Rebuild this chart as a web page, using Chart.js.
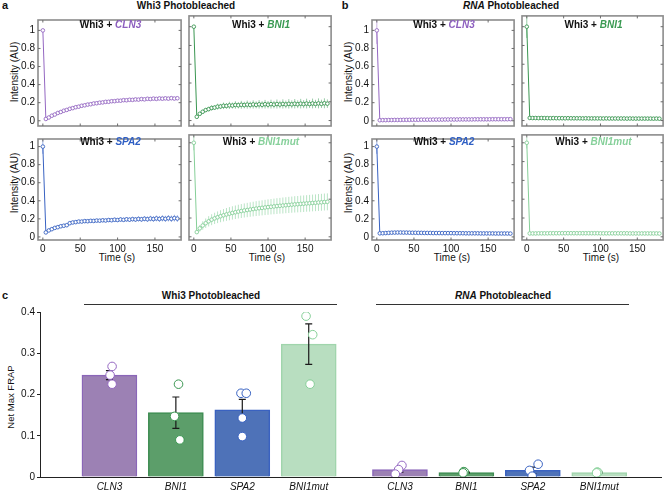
<!DOCTYPE html>
<html lang="en">
<head>
<meta charset="UTF-8">
<title>FRAP</title>
<style>
  body { margin: 0; background: #fff; }
  #fig { position: relative; width: 667px; height: 495px; overflow: hidden; font-family: "Liberation Sans", Arial, sans-serif; color: #111; }
  #fig canvas { position: absolute; }
  .t { position: absolute; white-space: nowrap; transform: translate(-50%, -50%); line-height: 1; }
  .b { font-weight: bold; }
  .rot { transform: translate(-50%, -50%) rotate(-90deg); }
  .rule { position: absolute; height: 0; border-top: 1px solid #333; }
</style>
</head>
<body>
<div id="fig">
  <div class="t b" style="left:5px;top:5px;font-size:11px">a</div>
  <div class="t b" style="left:186px;top:6px;font-size:10px">Whi3 Photobleached</div>
  <div class="t b" style="left:345px;top:5px;font-size:11px">b</div>
  <div class="t b" style="left:511px;top:6px;font-size:10px"><i>RNA</i> Photobleached</div>
  <div class="t b" style="left:5px;top:295px;font-size:11px">c</div>

  <div class="t rot" style="left:15px;top:72px;font-size:10px">Intensity (AU)</div>
  <div class="t rot" style="left:15px;top:183px;font-size:10px">Intensity (AU)</div>
  <div class="t rot" style="left:349px;top:72px;font-size:10px">Intensity (AU)</div>
  <div class="t rot" style="left:349px;top:183px;font-size:10px">Intensity (AU)</div>
  <div class="t" style="left:117px;top:258px;font-size:10px">Time (s)</div>
  <div class="t" style="left:267px;top:258px;font-size:10px">Time (s)</div>
  <div class="t" style="left:452px;top:258px;font-size:10px">Time (s)</div>
  <div class="t" style="left:601px;top:258px;font-size:10px">Time (s)</div>

  <div class="t b" style="left:211px;top:296px;font-size:10px">Whi3 Photobleached</div>
  <div class="rule" style="left:84px;top:304px;width:253px"></div>
  <div class="t b" style="left:503px;top:296px;font-size:10px"><i>RNA</i> Photobleached</div>
  <div class="rule" style="left:376px;top:304px;width:253px"></div>
  <div class="t rot" style="left:11px;top:397px;font-size:9.5px">Net Max FRAP</div>
</div>

<script src="https://cdn.jsdelivr.net/npm/chart.js"></script>
<script>
// ---- data ----
const times = [0, 4, 8, 12, 16, 20, 24, 28, 32, 36, 40, 44, 48, 52, 56, 60, 64, 68, 72, 76, 80, 84, 88, 92,
  96, 100, 104, 108, 112, 116, 120, 124, 128, 132, 136, 140, 144, 148, 152, 156, 160, 164, 168, 172, 176, 180];

const aCLN3 = [1.0, 0.020, 0.036, 0.056, 0.069, 0.086, 0.097, 0.111, 0.120, 0.132, 0.140, 0.150, 0.156, 0.166, 0.171, 0.179,
  0.183, 0.191, 0.194, 0.200, 0.203, 0.209, 0.210, 0.216, 0.217, 0.222, 0.222, 0.228, 0.227, 0.232, 0.231, 0.236,
  0.234, 0.240, 0.237, 0.243, 0.240, 0.245, 0.242, 0.247, 0.244, 0.248, 0.245, 0.250, 0.246, 0.249];
const aCLN3err = [0, 0.004, 0.005, 0.006, 0.006, 0.007, 0.007, 0.008, 0.008, 0.008, 0.009, 0.009, 0.009, 0.010, 0.010, 0.010,
  0.010, 0.011, 0.011, 0.011, 0.011, 0.012, 0.011, 0.012, 0.011, 0.012, 0.012, 0.013, 0.012, 0.013, 0.012, 0.013,
  0.012, 0.014, 0.012, 0.014, 0.013, 0.014, 0.013, 0.014, 0.013, 0.014, 0.013, 0.014, 0.013, 0.014];

const aBNI1 = [1.0, 0.040, 0.072, 0.094, 0.112, 0.122, 0.134, 0.138, 0.148, 0.150, 0.157, 0.156, 0.162, 0.160, 0.166, 0.163,
  0.168, 0.165, 0.170, 0.166, 0.172, 0.167, 0.173, 0.168, 0.174, 0.169, 0.175, 0.170, 0.176, 0.171, 0.177, 0.172,
  0.178, 0.173, 0.179, 0.174, 0.180, 0.175, 0.181, 0.176, 0.182, 0.177, 0.183, 0.178, 0.184, 0.180];
const aBNI1err = [0, 0.008, 0.014, 0.018, 0.022, 0.024, 0.028, 0.026, 0.032, 0.028, 0.035, 0.030, 0.038, 0.032, 0.040, 0.034,
  0.042, 0.035, 0.043, 0.036, 0.044, 0.037, 0.045, 0.038, 0.046, 0.039, 0.047, 0.040, 0.048, 0.040, 0.049, 0.041,
  0.050, 0.042, 0.050, 0.042, 0.051, 0.043, 0.052, 0.043, 0.052, 0.044, 0.053, 0.044, 0.053, 0.045];

const aSPA2 = [1.0, 0.050, 0.072, 0.086, 0.100, 0.108, 0.118, 0.124, 0.130, 0.152, 0.160, 0.164, 0.170, 0.170, 0.175, 0.174,
  0.178, 0.177, 0.181, 0.180, 0.184, 0.182, 0.187, 0.185, 0.190, 0.187, 0.193, 0.189, 0.195, 0.191, 0.197, 0.193,
  0.199, 0.195, 0.201, 0.196, 0.203, 0.198, 0.205, 0.199, 0.206, 0.200, 0.207, 0.201, 0.208, 0.203];
const aSPA2err = [0.08, 0.004, 0.005, 0.006, 0.006, 0.007, 0.007, 0.008, 0.008, 0.010, 0.011, 0.012, 0.013, 0.013, 0.014, 0.015,
  0.016, 0.016, 0.017, 0.018, 0.019, 0.019, 0.020, 0.021, 0.022, 0.022, 0.023, 0.024, 0.025, 0.025, 0.026, 0.027,
  0.028, 0.028, 0.029, 0.030, 0.031, 0.031, 0.032, 0.033, 0.034, 0.034, 0.035, 0.036, 0.037, 0.037];

const aBNI1mut = [1.0, 0.050, 0.090, 0.120, 0.145, 0.165, 0.182, 0.196, 0.208, 0.219, 0.229, 0.238, 0.246, 0.254, 0.261, 0.268,
  0.274, 0.280, 0.285, 0.290, 0.295, 0.300, 0.304, 0.308, 0.312, 0.316, 0.320, 0.323, 0.327, 0.330, 0.333, 0.336,
  0.339, 0.342, 0.345, 0.347, 0.350, 0.352, 0.355, 0.357, 0.360, 0.362, 0.365, 0.367, 0.370, 0.372];
const aBNI1muterr = [0.08, 0.020, 0.035, 0.045, 0.050, 0.055, 0.058, 0.060, 0.062, 0.064, 0.066, 0.068, 0.070, 0.071, 0.072, 0.073,
  0.074, 0.075, 0.076, 0.077, 0.078, 0.079, 0.080, 0.080, 0.081, 0.082, 0.082, 0.083, 0.084, 0.084, 0.085, 0.085,
  0.086, 0.086, 0.087, 0.087, 0.088, 0.088, 0.088, 0.089, 0.089, 0.089, 0.090, 0.090, 0.090, 0.090];

const bCLN3 = [1.0, 0.006, 0.007, 0.007, 0.008, 0.008, 0.009, 0.009, 0.009, 0.010, 0.010, 0.010, 0.011, 0.011, 0.011, 0.012,
  0.012, 0.012, 0.012, 0.013, 0.013, 0.013, 0.013, 0.014, 0.014, 0.014, 0.014, 0.014, 0.015, 0.015, 0.015, 0.015,
  0.015, 0.016, 0.016, 0.016, 0.016, 0.016, 0.016, 0.017, 0.017, 0.017, 0.017, 0.017, 0.017, 0.018];
const bCLN3err = [0.15, 0.003, 0.003, 0.003, 0.003, 0.003, 0.003, 0.003, 0.003, 0.003, 0.003, 0.003, 0.003, 0.003, 0.003, 0.003,
  0.003, 0.003, 0.003, 0.003, 0.003, 0.003, 0.003, 0.003, 0.003, 0.003, 0.003, 0.003, 0.003, 0.003, 0.003, 0.003,
  0.003, 0.003, 0.003, 0.003, 0.003, 0.003, 0.003, 0.003, 0.003, 0.003, 0.003, 0.003, 0.003, 0.003];

const bBNI1 = [1.0, 0.028, 0.027, 0.027, 0.026, 0.027, 0.026, 0.026, 0.025, 0.026, 0.025, 0.025, 0.025, 0.024, 0.025, 0.024,
  0.024, 0.024, 0.024, 0.023, 0.024, 0.023, 0.023, 0.023, 0.023, 0.023, 0.022, 0.023, 0.022, 0.022, 0.022, 0.022,
  0.022, 0.022, 0.021, 0.022, 0.021, 0.021, 0.021, 0.021, 0.021, 0.021, 0.021, 0.020, 0.021, 0.020];
const bBNI1err = [0.12, 0.004, 0.004, 0.004, 0.004, 0.004, 0.004, 0.004, 0.004, 0.004, 0.004, 0.004, 0.004, 0.004, 0.004, 0.004,
  0.004, 0.004, 0.004, 0.004, 0.004, 0.004, 0.004, 0.004, 0.004, 0.004, 0.004, 0.004, 0.004, 0.004, 0.004, 0.004,
  0.004, 0.004, 0.004, 0.004, 0.004, 0.004, 0.004, 0.004, 0.004, 0.004, 0.004, 0.004, 0.004, 0.004];

const bSPA2 = [1.0, 0.040, 0.041, 0.043, 0.045, 0.047, 0.048, 0.049, 0.049, 0.048, 0.048, 0.047, 0.046, 0.046, 0.045, 0.045,
  0.044, 0.044, 0.044, 0.043, 0.043, 0.043, 0.042, 0.042, 0.042, 0.042, 0.041, 0.041, 0.041, 0.041, 0.040, 0.040,
  0.040, 0.040, 0.040, 0.039, 0.039, 0.039, 0.039, 0.039, 0.038, 0.038, 0.038, 0.038, 0.038, 0.037];
const bSPA2err = [0.08, 0.006, 0.007, 0.008, 0.008, 0.009, 0.009, 0.009, 0.009, 0.008, 0.008, 0.008, 0.008, 0.008, 0.008, 0.008,
  0.008, 0.008, 0.008, 0.008, 0.008, 0.008, 0.008, 0.008, 0.008, 0.008, 0.008, 0.008, 0.008, 0.008, 0.008, 0.008,
  0.008, 0.008, 0.008, 0.008, 0.008, 0.008, 0.008, 0.008, 0.008, 0.008, 0.008, 0.008, 0.008, 0.008];

const bBNI1mut = [1.0, 0.036, 0.036, 0.036, 0.037, 0.037, 0.037, 0.037, 0.038, 0.038, 0.038, 0.038, 0.038, 0.038, 0.038, 0.038,
  0.038, 0.038, 0.038, 0.038, 0.038, 0.038, 0.038, 0.038, 0.038, 0.037, 0.037, 0.037, 0.037, 0.037, 0.037, 0.037,
  0.037, 0.037, 0.037, 0.036, 0.036, 0.036, 0.036, 0.036, 0.036, 0.036, 0.036, 0.036, 0.036, 0.035];
const bBNI1muterr = [0.06, 0.003, 0.003, 0.003, 0.003, 0.003, 0.003, 0.003, 0.003, 0.003, 0.003, 0.003, 0.003, 0.003, 0.003, 0.003,
  0.003, 0.003, 0.003, 0.003, 0.003, 0.003, 0.003, 0.003, 0.003, 0.003, 0.003, 0.003, 0.003, 0.003, 0.003, 0.003,
  0.003, 0.003, 0.003, 0.003, 0.003, 0.003, 0.003, 0.003, 0.003, 0.003, 0.003, 0.003, 0.003, 0.003];

const lineYTicks = [0, 0.2, 0.4, 0.6, 0.8, 1];
const lineXTicks = [0, 50, 100, 150];

// panel c
const barLabels = ['CLN3', 'BNI1', 'SPA2', 'BNI1mut', 'CLN3', 'BNI1', 'SPA2', 'BNI1mut'];
const barMeans = [0.247, 0.156, 0.163, 0.322, 0.018, 0.011, 0.016, 0.011];
const barErrs = [0.011, 0.038, 0.025, 0.049, 0.006, 0.001, 0.008, 0.001];
// individual replicates: [bar index, value, jitter]
const barDots = [
  [0, 0.268, 0.04], [0, 0.247, 0.01], [0, 0.225, 0.04],
  [1, 0.225, 0.04], [1, 0.147, -0.02], [1, 0.090, 0.06],
  [2, 0.203, -0.02], [2, 0.203, 0.06], [2, 0.143, 0.0], [2, 0.098, 0.0],
  [3, 0.390, -0.04], [3, 0.345, 0.06], [3, 0.225, 0.02],
  [4, 0.028, 0.03], [4, 0.018, -0.02], [4, 0.007, -0.07],
  [5, 0.013, -0.04], [5, 0.012, -0.03], [5, 0.010, -0.05],
  [6, 0.031, 0.08], [6, 0.016, -0.05], [6, 0.002, -0.01],
  [7, 0.012, -0.03], [7, 0.011, -0.02], [7, 0.010, -0.04]
];
const barYTicks = [0, 0.1, 0.2, 0.3, 0.4];

// ---- styles ----
const col = {
  CLN3:    { line: '#9467c2', err: 'rgba(160,120,200,0.55)', fill: '#9c81b4', edge: '#8a66b8', text: '#8d5fbf' },
  BNI1:    { line: '#3a9651', err: 'rgba(70,160,95,0.55)',   fill: '#5c9e6a', edge: '#3d8c52', text: '#3a9a52' },
  SPA2:    { line: '#3862c2', err: 'rgba(70,110,200,0.55)',  fill: '#4e72b8', edge: '#3a62c0', text: '#2f5fc4' },
  BNI1mut: { line: '#86cf98', err: 'rgba(140,210,160,0.6)',  fill: '#b8dec0', edge: '#a0d5ac', text: '#86d09a' }
};

Chart.defaults.font.family = '"Liberation Sans", Arial, sans-serif';
Chart.defaults.color = '#111';
Chart.defaults.animation = false;

const fig = document.getElementById('fig');

const framePlugin = {
  id: 'frame',
  afterDraw(chart) {
    const { ctx, chartArea: a, scales: { x, y } } = chart;
    ctx.save();
    ctx.strokeStyle = '#8c8c8c';
    ctx.lineWidth = 1.6;
    ctx.strokeRect(a.left, a.top, a.right - a.left, a.bottom - a.top);
    ctx.lineWidth = 1;
    ctx.strokeStyle = '#6c6c6c';
    ctx.beginPath();
    lineXTicks.forEach(v => {
      const px = x.getPixelForValue(v);
      ctx.moveTo(px, a.bottom); ctx.lineTo(px, a.bottom - 2.5);
      ctx.moveTo(px, a.top); ctx.lineTo(px, a.top + 2.5);
    });
    lineYTicks.forEach(v => {
      const py = y.getPixelForValue(v);
      ctx.moveTo(a.left, py); ctx.lineTo(a.left + 2.5, py);
      ctx.moveTo(a.right, py); ctx.lineTo(a.right - 2.5, py);
    });
    ctx.stroke();
    ctx.restore();
  }
};

const errPlugin = {
  id: 'errbars',
  beforeDatasetsDraw(chart, args, opts) {
    const { ctx, chartArea: a, scales: { x, y } } = chart;
    const mean = opts.mean, err = opts.err;
    ctx.save();
    ctx.beginPath();
    ctx.rect(a.left, a.top, a.right - a.left, a.bottom - a.top);
    ctx.clip();
    ctx.strokeStyle = opts.color;
    ctx.lineWidth = 1;
    ctx.beginPath();
    times.forEach((t, i) => {
      const e = err[i] || 0;
      if (!e) return;
      const px = x.getPixelForValue(t);
      ctx.moveTo(px, y.getPixelForValue(mean[i] - e));
      ctx.lineTo(px, y.getPixelForValue(mean[i] + e));
    });
    ctx.stroke();
    ctx.restore();
  }
};

function panel(box, mean, err, c, yRange, showY, showX, title, titleY) {
  const padL = 26, padT = 3, padR = 3, padB = 18;
  const [L, T, R, B] = box;
  const cv = document.createElement('canvas');
  const w = R - L + padL + padR, h = B - T + padT + padB;
  cv.width = w; cv.height = h;
  cv.style.left = (L - padL) + 'px';
  cv.style.top = (T - padT) + 'px';
  cv.style.width = w + 'px'; cv.style.height = h + 'px';
  fig.appendChild(cv);

  const tl = document.createElement('div');
  tl.className = 't b';
  tl.style.cssText = `left:${(L + R) / 2}px;top:${titleY}px;font-size:10px`;
  tl.innerHTML = `Whi3 + <i style="color:${c.text}">${title}</i>`;
  fig.appendChild(tl);

  new Chart(cv, {
    type: 'line',
    data: {
      datasets: [{
        data: times.map((t, i) => ({ x: t, y: mean[i] })),
        borderColor: c.line,
        borderWidth: 1,
        pointRadius: 1.8,
        pointBorderWidth: 0.9,
        pointBorderColor: c.line,
        pointBackgroundColor: '#fff',
        tension: 0
      }]
    },
    options: {
      responsive: false,
      layout: { padding: { top: padT, right: padR, left: 0, bottom: 0 } },
      plugins: {
        legend: { display: false },
        tooltip: { enabled: false },
        errbars: { mean: mean, err: err, color: c.err }
      },
      scales: {
        x: {
          type: 'linear', min: -6.5, max: 185,
          afterBuildTicks: s => { s.ticks = lineXTicks.map(v => ({ value: v })); },
          afterFit: s => { s.height = padB; },
          grid: { display: false, drawTicks: false },
          border: { display: false },
          ticks: { display: showX, padding: 3, maxRotation: 0, autoSkip: false, font: { size: 10 }, color: '#111', callback: v => String(v) }
        },
        y: {
          min: yRange[0], max: yRange[1],
          afterBuildTicks: s => { s.ticks = lineYTicks.map(v => ({ value: v })); },
          afterFit: s => { s.width = padL; },
          grid: { display: false, drawTicks: false },
          border: { display: false },
          ticks: { display: showY, padding: 3, font: { size: 10 }, color: '#111', callback: v => String(v) }
        }
      }
    },
    plugins: [errPlugin, framePlugin]
  });
}

const topRange = [-0.058, 1.115], botRange = [-0.034, 1.084];
panel([38, 14, 183, 126], aCLN3, aCLN3err, col.CLN3, topRange, true, false, 'CLN3', 25);
panel([189, 14, 333, 126], aBNI1, aBNI1err, col.BNI1, topRange, false, false, 'BNI1', 25);
panel([38, 133, 183, 240], aSPA2, aSPA2err, col.SPA2, botRange, true, true, 'SPA2', 142);
panel([189, 133, 333, 240], aBNI1mut, aBNI1muterr, col.BNI1mut, botRange, false, true, 'BNI1mut', 142);
panel([372, 14, 516, 126], bCLN3, bCLN3err, col.CLN3, topRange, true, false, 'CLN3', 25);
panel([522, 14, 665, 126], bBNI1, bBNI1err, col.BNI1, topRange, false, false, 'BNI1', 25);
panel([372, 133, 516, 240], bSPA2, bSPA2err, col.SPA2, botRange, true, true, 'SPA2', 142);
panel([522, 133, 665, 240], bBNI1mut, bBNI1muterr, col.BNI1mut, botRange, false, true, 'BNI1mut', 142);

// ---- panel c: bar chart ----
const groupGap = 0.373;
const barPos = barLabels.map((_, i) => i + 1 + (i >= 4 ? groupGap : 0));
const barCols = barLabels.map(l => col[l]);

const barErrPlugin = {
  id: 'barerr',
  afterDatasetDraw(chart, args) {
    if (args.meta.type !== 'bar') return;
    const { ctx, scales: { x, y } } = chart;
    ctx.save();
    ctx.strokeStyle = '#1a1a1a';
    ctx.lineWidth = 1.2;
    ctx.beginPath();
    barPos.forEach((p, i) => {
      const px = x.getPixelForValue(p);
      const y1 = y.getPixelForValue(barMeans[i] - barErrs[i]);
      const y2 = y.getPixelForValue(barMeans[i] + barErrs[i]);
      ctx.moveTo(px, y1); ctx.lineTo(px, y2);
      ctx.moveTo(px - 3.5, y1); ctx.lineTo(px + 3.5, y1);
      ctx.moveTo(px - 3.5, y2); ctx.lineTo(px + 3.5, y2);
    });
    ctx.stroke();
    ctx.restore();
  }
};

const bc = document.createElement('canvas');
bc.width = 667; bc.height = 195;
bc.style.left = '0px'; bc.style.top = '300px';
bc.style.width = '667px'; bc.style.height = '195px';
fig.appendChild(bc);

new Chart(bc, {
  type: 'bar',
  data: {
    datasets: [
      {
        type: 'bar',
        order: 1,
        data: barPos.map((p, i) => ({ x: p, y: barMeans[i] })),
        backgroundColor: barCols.map(c => c.fill),
        borderColor: barCols.map(c => c.edge),
        borderWidth: 1.5,
        borderSkipped: 'bottom',
        barThickness: 55
      },
      {
        type: 'scatter',
        order: 0,
        data: barDots.map(d => ({ x: barPos[d[0]] + d[2], y: d[1] })),
        pointRadius: 4.3,
        pointBorderWidth: 1,
        pointBackgroundColor: '#fff',
        pointBorderColor: barDots.map(d => barCols[d[0]].line)
      }
    ]
  },
  options: {
    responsive: false,
    layout: { padding: { top: 12, right: 0, left: 0, bottom: 0 } },
    plugins: { legend: { display: false }, tooltip: { enabled: false } },
    scales: {
      x: {
        type: 'linear', min: -0.045, max: 9.313, offset: false,
        afterBuildTicks: s => { s.ticks = barPos.map(v => ({ value: v })); },
        afterFit: s => { s.height = 18; },
        grid: { display: false, drawTicks: false, offset: false },
        border: { display: true, color: '#222', width: 1 },
        ticks: {
          padding: 4, autoSkip: false, maxRotation: 0,
          font: { size: 10, style: 'italic' }, color: '#111',
          callback: (v, i) => barLabels[i]
        }
      },
      y: {
        min: 0, max: 0.4,
        afterBuildTicks: s => { s.ticks = barYTicks.map(v => ({ value: v })); },
        afterFit: s => { s.width = 40; },
        grid: { display: true, drawOnChartArea: false, drawTicks: true, tickLength: 3, color: '#222' },
        border: { display: true, color: '#222', width: 1 },
        ticks: { padding: 2, font: { size: 10 }, color: '#111', callback: v => String(v) }
      }
    }
  },
  plugins: [barErrPlugin]
});
</script>
</body>
</html>
